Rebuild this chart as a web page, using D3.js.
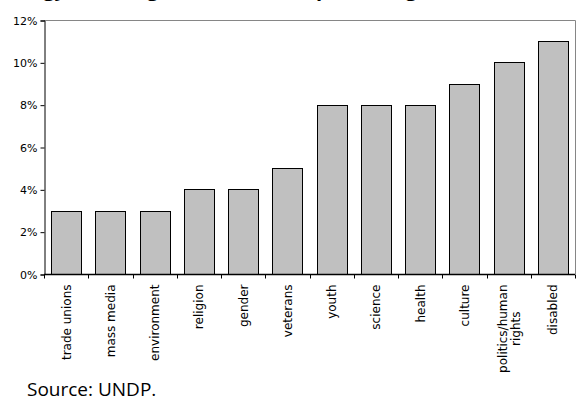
<!DOCTYPE html>
<html lang="en">
<head>
<meta charset="UTF-8">
<title>NGOs by field of activity</title>
<script src="https://d3js.org/d3.v7.min.js"></script>
<style>
    body { margin: 0; background: #fff; }
    svg { display: block; }
    .tick-label { font-family: "DejaVu Sans", Verdana, sans-serif; font-size: 11px; fill: #000; }
    .cat-label { font-family: "DejaVu Sans", Verdana, sans-serif; font-size: 12px; fill: #000; }
    .title { font-family: "Open Sans", sans-serif; font-size: 20px; font-weight: bold; }
    .source { font-family: "Open Sans", sans-serif; font-size: 19px; }
</style>
</head>
<body>
<svg width="577" height="408"></svg>
<script>
    // data
    const categories = ["trade unions", "mass media", "environment", "religion", "gender", "veterans",
                        "youth", "science", "health", "culture", "politics/human\nrights", "disabled"];
    const shares = [3, 3, 3, 4, 4, 5, 8, 8, 8, 9, 10, 11];
    const yTicks = [0, 2, 4, 6, 8, 10, 12];

    const width = 577, height = 408;
    const margin = { top: 20, right: 2, bottom: 134, left: 44 };

    const svg = d3.select("svg");

    const x = d3.scaleBand()
        .domain(categories)
        .range([margin.left, width - margin.right])
        .paddingInner(0.32)
        .paddingOuter(0.16);

    const y = d3.scaleLinear()
        .domain([0, 12])
        .range([height - margin.bottom, margin.top]);

    // title, mostly cut off at the top edge
    svg.append("text")
        .attr("class", "title")
        .attr("x", -2)
        .attr("y", -4)
        .text("Energy, working fields of NGOs, percentage");

    // gray frame on top and right
    svg.append("path")
        .attr("d", `M${margin.left},${y(12) + 0.5}H${width - margin.right + 0.5}V${y(0)}`)
        .attr("fill", "none")
        .attr("stroke", "#868686");

    // bars
    svg.append("g")
        .selectAll("rect")
        .data(categories)
        .join("rect")
        .attr("x", d => Math.round(x(d)) + 0.5)
        .attr("y", (d, i) => Math.round(y(shares[i])) + 0.5)
        .attr("width", Math.round(x.bandwidth()))
        .attr("height", (d, i) => Math.round(y(0)) - Math.round(y(shares[i])))
        .attr("fill", "#c0c0c0")
        .attr("stroke", "#000")
        .attr("stroke-width", 1);

    // y axis
    const yAxis = svg.append("g")
        .attr("transform", `translate(${margin.left + 0.5},0.5)`)
        .call(d3.axisLeft(y).tickValues(yTicks).tickFormat(d => d + "%").tickSize(4).tickPadding(3));
    yAxis.select(".domain").attr("stroke", "#000");
    yAxis.selectAll("text").attr("class", "tick-label").attr("font-family", null).attr("font-size", null);

    // x axis: ticks between categories
    const xAxisG = svg.append("g").attr("transform", `translate(0,${y(0) + 0.5})`);
    xAxisG.append("line")
        .attr("x1", margin.left).attr("x2", width - margin.right)
        .attr("stroke", "#000").attr("stroke-width", 1.5);
    const step = x.step();
    const bounds = d3.range(categories.length + 1).map(i => margin.left + i * step);
    xAxisG.selectAll(".sep")
        .data(bounds)
        .join("line")
        .attr("x1", d => Math.round(d) + 0.5).attr("x2", d => Math.round(d) + 0.5)
        .attr("y1", 0).attr("y2", 4)
        .attr("stroke", "#000");

    // rotated category labels, right-aligned at the top, lines centred on each other
    const labelTop = 10;
    const labels = xAxisG.selectAll(".lab")
        .data(categories)
        .join("text")
        .attr("class", "cat-label")
        .attr("text-anchor", "middle");
    labels.each(function(d) {
        const t = d3.select(this);
        const lines = d.split("\n");
        lines.forEach((ln, k) => {
            t.append("tspan").attr("x", 0).attr("dy", k === 0 ? 0 : 13).text(ln);
        });
        const len = d3.max(t.selectAll("tspan").nodes(), n => n.getComputedTextLength());
        const cx = x(d) + x.bandwidth() / 2 + 4.5 - (lines.length - 1) * 6.5;
        t.attr("transform", `translate(${cx},${labelTop + len / 2}) rotate(-90)`);
    });

    // source line
    svg.append("text")
        .attr("class", "source")
        .attr("x", 27)
        .attr("y", 396)
        .text("Source: UNDP.");
</script>
</body>
</html>
